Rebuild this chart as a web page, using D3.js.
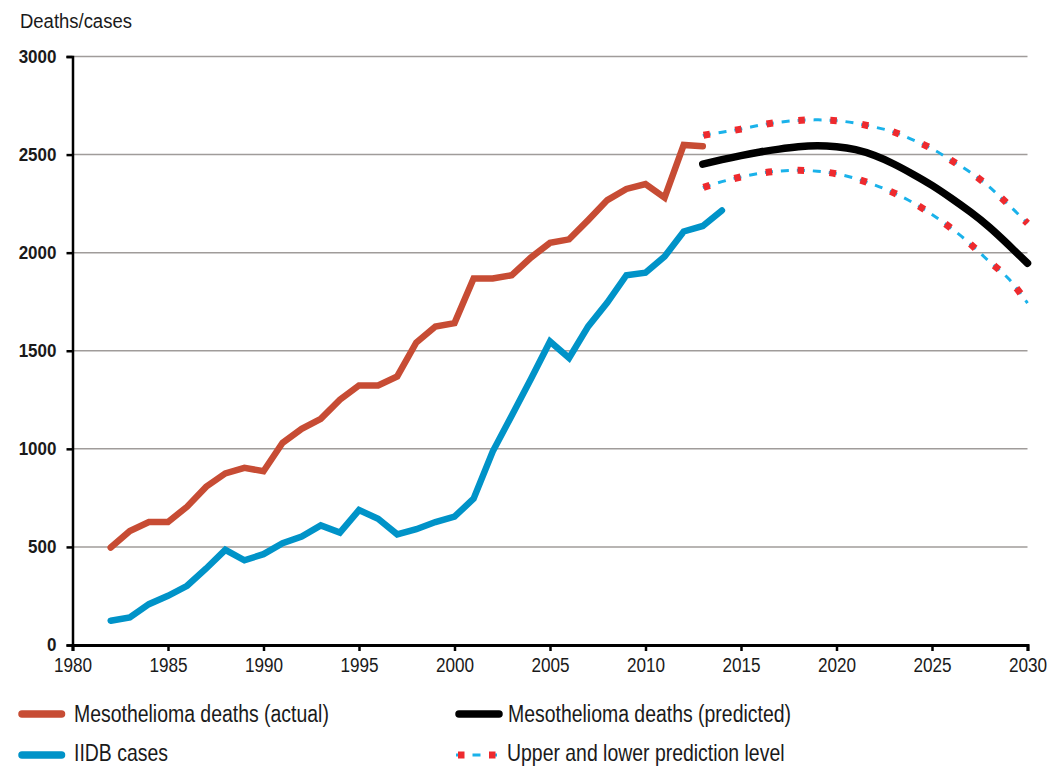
<!DOCTYPE html>
<html><head><meta charset="utf-8">
<script src="https://cdn.jsdelivr.net/npm/d3@7"></script>
<style>
body{margin:0;background:#fff;}
svg{display:block;}
text{font-family:"Liberation Sans","Arial",sans-serif;fill:#1a1a1a;}
</style></head>
<body>
<svg id="chart" width="1049" height="766"></svg>
<script>
const actualYears = d3.range(1982, 2014);
const actualDeaths = [497,581,627,627,705,807,875,903,886,1031,1102,1153,1251,1323,1323,1369,1542,1623,1641,1868,1868,1885,1975,2050,2068,2166,2268,2325,2350,2281,2549,2542];
const iidbYears = d3.range(1982, 2015);
const iidbCases = [124,141,208,251,302,390,485,432,463,519,553,610,573,688,644,564,590,627,654,746,986,1170,1356,1547,1463,1624,1746,1885,1898,1980,2108,2136,2215];
const predYears = d3.range(2013, 2031);
const predicted = [2451,2474,2495,2513,2528,2540,2545,2540,2525,2495,2452,2400,2343,2278,2208,2130,2040,1946];
const upperLevel = [2598,2614,2630,2650,2665,2674,2677,2673,2660,2640,2615,2575,2530,2471,2410,2335,2245,2150];
const lowerLevel = [2332,2362,2386,2405,2416,2420,2415,2402,2378,2345,2305,2255,2195,2125,2045,1955,1868,1743];
const xTicks = [1980,1985,1990,1995,2000,2005,2010,2015,2020,2025,2030];
const yTicks = [0,500,1000,1500,2000,2500,3000];
const legendLabels = ["Mesothelioma deaths (actual)","Mesothelioma deaths (predicted)","IIDB cases","Upper and lower prediction level"];

const RED = "#c74c34", BLUE = "#0093c8", LBLUE = "#1ab2ea", DOTRED = "#ee2a2e";
const svg = d3.select("#chart");
const x = d3.scaleLinear().domain([1980, 2030]).range([72.5, 1027.5]);
const y = d3.scaleLinear().domain([0, 3000]).range([645, 56.5]);

// gridlines
svg.append("g").selectAll("line").data(yTicks.filter(d => d > 0)).join("line")
  .attr("x1", x(1980)).attr("x2", x(2030))
  .attr("y1", d => y(d)).attr("y2", d => y(d))
  .attr("stroke", "#a09c9a").attr("stroke-width", 1.5);

// y axis
const yAxis = svg.append("g").attr("transform", `translate(${x(1980)},0)`)
  .call(d3.axisLeft(y).tickValues(yTicks).tickSize(6).tickPadding(9).tickFormat(d3.format("d")));
yAxis.select(".domain").attr("stroke", "#000").attr("stroke-width", 2.5);
yAxis.selectAll(".tick line").attr("stroke", "#000").attr("stroke-width", 2.5);
yAxis.selectAll(".tick text").attr("font-family", "Liberation Sans, Arial, sans-serif")
  .attr("font-size", 18.5).attr("font-weight", "bold").attr("fill", "#000")
  .attr("x", 0).attr("transform", "translate(-16,0) scale(0.92,1)");

// x axis
const xAxis = svg.append("g").attr("transform", `translate(0,${y(0)})`)
  .call(d3.axisBottom(x).tickValues(xTicks).tickSize(6).tickPadding(7).tickFormat(d3.format("d")));
xAxis.select(".domain").attr("stroke", "#000").attr("stroke-width", 3);
xAxis.selectAll(".tick line").attr("stroke", "#000").attr("stroke-width", 2.5);
xAxis.selectAll(".tick text").attr("font-family", "Liberation Sans, Arial, sans-serif")
  .attr("font-size", 19.5).attr("fill", "#1a1a1a").attr("transform", "scale(0.88,1)");

svg.append("text").attr("transform", "translate(20,28) scale(0.88,1)").attr("font-size", 21).text("Deaths/cases");

const line = d3.line().x(d => x(d[0])).y(d => y(d[1]));
const smooth = d3.line().x(d => x(d[0])).y(d => y(d[1])).curve(d3.curveNatural);

function zip(a, b) { return a.map((v, i) => [v, b[i]]); }

// prediction bands
function band(vals) {
  const data = zip(predYears, vals);
  svg.append("path").attr("d", smooth(data)).attr("fill", "none")
    .attr("stroke", LBLUE).attr("stroke-width", 3).attr("stroke-dasharray", "8 8");
  svg.append("path").attr("d", smooth(data)).attr("fill", "none")
    .attr("stroke", DOTRED).attr("stroke-width", 7).attr("stroke-dasharray", "6.5 25.5")
    .attr("stroke-dashoffset", -0.75);
}
band(upperLevel);
band(lowerLevel);

svg.append("path").attr("d", line(zip(actualYears, actualDeaths))).attr("fill", "none")
  .attr("stroke", RED).attr("stroke-width", 6.5).attr("stroke-linecap", "round").attr("stroke-linejoin", "miter");
svg.append("path").attr("d", line(zip(iidbYears, iidbCases))).attr("fill", "none")
  .attr("stroke", BLUE).attr("stroke-width", 6.5).attr("stroke-linecap", "round").attr("stroke-linejoin", "miter");
svg.append("path").attr("d", smooth(zip(predYears, predicted))).attr("fill", "none")
  .attr("stroke", "#000").attr("stroke-width", 7.5).attr("stroke-linecap", "round");

// legend
const leg = svg.append("g");
const items = [
  {sx: 22, ex: 61.5, tx: 74, y: 714, base: 721.5, fs: 24, sc: 0.81, type: "line", color: RED, label: legendLabels[0]},
  {sx: 459, ex: 499, tx: 508, y: 714, base: 721.5, fs: 24, sc: 0.81, type: "line", color: "#000", label: legendLabels[1]},
  {sx: 22, ex: 61.5, tx: 74, y: 755, base: 760.5, fs: 23, sc: 0.845, type: "line", color: BLUE, label: legendLabels[2]},
  {sx: 456, ex: 497, tx: 507, y: 755, base: 760.5, fs: 23, sc: 0.845, type: "band", label: legendLabels[3]}
];
items.forEach(it => {
  if (it.type === "line") {
    leg.append("line").attr("x1", it.sx).attr("x2", it.ex)
      .attr("y1", it.y).attr("y2", it.y).attr("stroke", it.color).attr("stroke-width", 7.5).attr("stroke-linecap", "round");
  } else {
    leg.append("line").attr("x1", it.sx).attr("x2", it.ex).attr("y1", it.y).attr("y2", it.y)
      .attr("stroke", LBLUE).attr("stroke-width", 3).attr("stroke-dasharray", "8 8.5");
    leg.append("line").attr("x1", it.sx + 2).attr("x2", it.ex).attr("y1", it.y).attr("y2", it.y)
      .attr("stroke", DOTRED).attr("stroke-width", 7).attr("stroke-dasharray", "6.5 24.5");
  }
  leg.append("text").attr("transform", `translate(${it.tx},${it.base}) scale(${it.sc},1)`)
    .attr("font-size", it.fs).text(it.label);
});
</script>
</body></html>
